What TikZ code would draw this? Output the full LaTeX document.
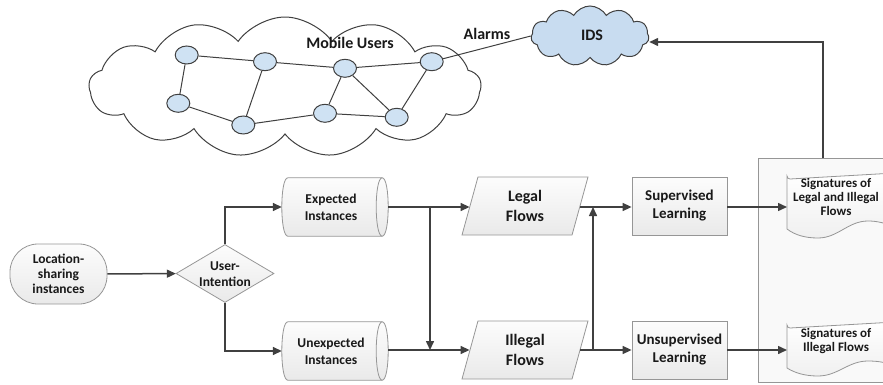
\documentclass[tikz,border=0pt]{standalone}
\usepackage{fontspec}
\setmainfont{Carlito}[BoldFont={Carlito Bold}]
\usetikzlibrary{shapes.geometric,shapes.symbols,arrows.meta,calc,backgrounds}
\definecolor{lnc}{RGB}{64,64,64}
\definecolor{bdc}{RGB}{150,150,150}
\definecolor{nbc}{RGB}{207,226,243}
\definecolor{idsc}{RGB}{200,220,240}
\definecolor{txc}{RGB}{25,25,25}
\newcommand\mycyl[1]{%
  \path[shade, draw=bdc, line width=0.8pt, top color=gray!2, bottom color=gray!17]
    ($(#1.north west)+(6,0)$) -- ($(#1.north east)+(-6,0)$)
    .. controls ($(#1.north east)+(2,0)$) and ($(#1.south east)+(2,0)$) .. ($(#1.south east)+(-6,0)$)
    -- ($(#1.south west)+(6,0)$)
    .. controls ($(#1.south west)+(-2,0)$) and ($(#1.north west)+(-2,0)$) .. ($(#1.north west)+(6,0)$) -- cycle;
  \draw[draw=bdc, line width=0.8pt] ($(#1.north east)+(-6,0)$)
    .. controls ($(#1.north east)+(-14,0)$) and ($(#1.south east)+(-14,0)$) .. ($(#1.south east)+(-6,0)$);}
\begin{document}
\begin{tikzpicture}[x=1pt,y=-1pt,
  arr/.style={draw=lnc, line width=1.5pt, -{Triangle[length=9pt,width=8pt]}},
  thinln/.style={draw=lnc, line width=1pt},
  box/.style={draw=bdc, line width=0.8pt, top color=gray!2, bottom color=gray!17, text=txc,
    font=\bfseries\fontsize{15}{18}\selectfont, align=center, inner sep=0pt},
  txt/.style={text=txc, font=\bfseries\fontsize{13.5}{15.5}\selectfont, align=center, inner sep=0pt},
  sigtxt/.style={text=txc, font=\bfseries\fontsize{13}{14}\selectfont, align=center, inner sep=0pt},
  toplbl/.style={text=txc, font=\bfseries\fontsize{16}{18}\selectfont, inner sep=0pt},
  mnode/.style={ellipse, draw=lnc, line width=1pt, fill=nbc, minimum width=23pt, minimum height=18pt, inner sep=0pt},
  cyl/.style={rectangle, text=txc, font=\bfseries\fontsize{13.5}{17}\selectfont, align=center, inner sep=0pt, minimum width=106pt, minimum height=58pt},
  para/.style={box, trapezium, trapezium left angle=63, trapezium right angle=117, trapezium stretches body, minimum width=126pt, minimum height=58pt, font=\bfseries\fontsize{16}{20}\selectfont},
  rbox/.style={box, rectangle, minimum width=95pt, minimum height=58pt}
]
\useasboundingbox (0,0) rectangle (883,385);

% big cloud
\node[cloud, cloud puffs=13, cloud puff arc=110, cloud ignores aspect, draw=lnc, line width=1pt,
  minimum width=392pt, minimum height=140pt, inner sep=0pt] (cl) at (285,87) {};
\node[toplbl] (mu) at (350,43) {Mobile Users};

% network nodes
\node[mnode] (n1) at (186.7,55) {};
\node[mnode] (n2) at (265,61.7) {};
\node[mnode] (n3) at (345,68.3) {};
\node[mnode] (n4) at (431.7,61.7) {};
\node[mnode] (n5) at (178.3,103.3) {};
\node[mnode] (n6) at (243.3,125) {};
\node[mnode] (n7) at (325,113.3) {};
\node[mnode] (n8) at (396.7,117.3) {};
\draw[thinln] (n1) -- (n2);
\draw[thinln] (n2) -- (n3);
\draw[thinln] (n3) -- (n4);
\draw[thinln] (n1) -- (n5);
\draw[thinln] (n5) -- (n6);
\draw[thinln] (n2) -- (n6);
\draw[thinln] (n6) -- (n7);
\draw[thinln] (n3) -- (n7);
\draw[thinln] (n7) -- (n8);
\draw[thinln] (n3) -- (n8);
\draw[thinln] (n4) -- (n8);

% IDS cloud
\node[cloud, cloud puffs=11, cloud puff arc=120, cloud ignores aspect, draw=lnc, line width=1pt, fill=idsc,
  minimum width=118pt, minimum height=60pt, inner sep=0pt] (ids) at (590,36) {};
\node[toplbl] (idst) at (592,35) {IDS};
\node[toplbl] (al) at (487,34) {Alarms};
\draw[thinln] (n4) -- (ids.west);

% container
\node[draw=bdc, line width=0.8pt, fill=gray!5, anchor=north west, minimum width=140pt, minimum height=224pt, inner sep=0pt] (cont) at (758,158) {};
\coordinate (ct) at (823,158);
\coordinate (cb) at (823,42);
\draw[arr] (ct) -- (cb) -- (ids.east |- cb);

% documents
\path[draw=bdc, line width=0.8pt, top color=white, bottom color=gray!12]
  (787,229) -- (787,176) arc[start angle=180, end angle=90, radius=3] -- (895,173) -- (895,227)
  .. controls (885,223) and (877,221) .. (868,221)
  .. controls (848,221) and (838,238) .. (818,238)
  .. controls (805,238) and (795,235) .. (787,229) -- cycle;
\node[sigtxt] (d1) at (836,197) {Signatures of\\Legal and Illegal\\Flows};
\coordinate (d1l) at (787,207);
\path[draw=bdc, line width=0.8pt, top color=white, bottom color=gray!12]
  (787,368) -- (787,325) arc[start angle=180, end angle=90, radius=3] -- (895,322) -- (895,366)
  .. controls (885,362) and (877,361) .. (868,361)
  .. controls (848,361) and (838,376) .. (818,376)
  .. controls (805,376) and (795,373) .. (787,368) -- cycle;
\node[sigtxt] (d2) at (836,341) {Signatures of\\Illegal Flows};
\coordinate (d2l) at (787,350);

% left part
\node[box, rectangle, rounded corners=28pt, minimum width=97pt, minimum height=60pt,
  font=\bfseries\fontsize{13.5}{15}\selectfont] (loc) at (58.5,274) {Location-\\sharing\\instances};
\node[box, diamond, aspect=1.7, minimum width=98pt, minimum height=58pt] (ui) at (225,273.5) {};
\node[txt] (uit) at (225,274) {User-\\Intention};
\draw[arr] (loc) -- (ui);

\node[cyl] (exp) at (335,207) {\hspace*{-8pt}Expected\\\hspace*{-8pt}Instances};
\node[cyl] (unexp) at (335,351) {\hspace*{-8pt}Unexpected\\\hspace*{-8pt}Instances};
\begin{scope}[on background layer]
  \mycyl{exp}
  \mycyl{unexp}
\end{scope}
\draw[arr] (ui.north) |- (exp.west);
\draw[arr] (ui.south) |- (unexp.west);

\node[para] (legal) at (525,206) {Legal\\Flows};
\node[para] (illegal) at (525,350) {Illegal\\Flows};
\coordinate (j1) at (430,207);
\coordinate (j2) at (430,350);
\draw[arr] (exp.east |- j1) -- (legal.west |- j1);
\draw[arr] (unexp.east |- j2) -- (legal.west |- j2);
\draw[arr] (j1) -- (j2);

\node[rbox] (sup) at (679.5,206) {Supervised\\Learning};
\node[rbox] (unsup) at (679.5,350) {Unsupervised\\Learning};
\coordinate (j3) at (593,207);
\coordinate (j4) at (593,350);
\draw[arr] (legal.east |- j3) -- (sup.west |- j3);
\draw[arr] (illegal.east |- j4) -- (unsup.west |- j4);
\draw[arr] (j4) -- (j3);
\draw[arr] (sup.east |- j3) -- (d1l);
\draw[arr] (unsup.east |- j4) -- (d2l);
\end{tikzpicture}
\end{document}
